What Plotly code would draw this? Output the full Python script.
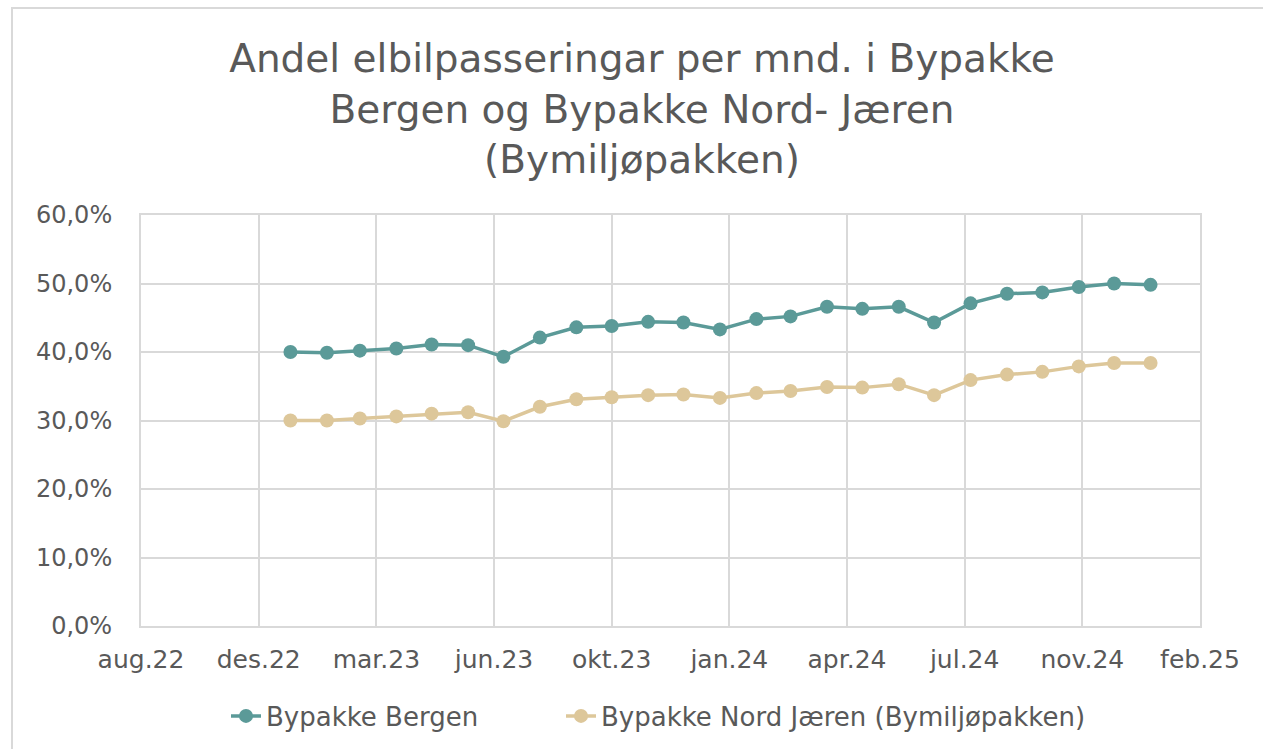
import pandas as pd
import plotly.graph_objects as go

# ---- data ----
months = pd.date_range("2023-01-01", "2025-01-01", freq="MS")
bergen = [40.0, 39.9, 40.2, 40.5, 41.1, 41.0, 39.3, 42.1, 43.6, 43.8, 44.4, 44.3, 43.3,
          44.8, 45.2, 46.6, 46.3, 46.6, 44.3, 47.1, 48.5, 48.7, 49.5, 50.0, 49.8]
nord_jaeren = [30.0, 30.0, 30.3, 30.6, 31.0, 31.2, 29.9, 32.0, 33.1, 33.4, 33.7, 33.8, 33.3,
               34.0, 34.3, 34.9, 34.8, 35.3, 33.7, 35.9, 36.7, 37.1, 37.9, 38.4, 38.4]
tick_dates = pd.date_range("2022-08-27", periods=10, freq="100D")
tick_labels = ["aug.22", "des.22", "mar.23", "jun.23", "okt.23",
               "jan.24", "apr.24", "jul.24", "nov.24", "feb.25"]
y_ticks = [0, 10, 20, 30, 40, 50, 60]
y_labels = ["0,0%", "10,0%", "20,0%", "30,0%", "40,0%", "50,0%", "60,0%"]
series_names = ["Bypakke Bergen", "Bypakke Nord Jæren (Bymiljøpakken)"]
title_text = "Andel elbilpasseringar per mnd. i Bypakke<br>Bergen og Bypakke Nord- Jæren<br>(Bymiljøpakken)"

TEAL = "#5B9A98"
BEIGE = "#DDC79A"
TXT = "#595959"
GRID = "#D9D9D9"
FONT = "DejaVu Sans"

fig = go.Figure()
for name, vals, col, lg in [(series_names[0], bergen, TEAL, "legend"),
                            (series_names[1], nord_jaeren, BEIGE, "legend2")]:
    fig.add_trace(go.Scatter(
        x=months, y=vals, name=name, mode="lines+markers",
        line=dict(color=col, width=3.5),
        marker=dict(color=col, size=14),
        legend=lg,
    ))

W, H = 1263, 749
L, R, T, B = 141, 63, 215, 123
pw, ph = W - L - R, H - T - B

legend_common = dict(orientation="h", xanchor="left", xref="container",
                     y=1 - 716 / H, yanchor="middle", yref="container",
                     font=dict(family=FONT, size=26, color=TXT), bgcolor="rgba(0,0,0,0)")

fig.update_layout(
    width=W, height=H,
    margin=dict(l=L, r=R, t=T, b=B),
    paper_bgcolor="white", plot_bgcolor="white",
    font=dict(family=FONT, color=TXT, size=24),
    title=dict(text=title_text, x=642 / W, xanchor="center", xref="container",
               y=1 - 72 / H, yanchor="middle", yref="container",
               font=dict(family=FONT, size=39, color=TXT)),
    showlegend=True,
    legend=dict(x=226 / W, **legend_common),
    legend2=dict(x=561 / W, **legend_common),
    xaxis=dict(type="date", range=[tick_dates[0], tick_dates[-1]],
               tickmode="array", tickvals=tick_dates, ticktext=tick_labels,
               showgrid=True, gridcolor=GRID, gridwidth=2,
               showline=True, linecolor=GRID, linewidth=2, mirror=True,
               ticks="", ticklabelstandoff=10, zeroline=False,
               tickfont=dict(family=FONT, size=25, color=TXT)),
    yaxis=dict(range=[0, 60], tickmode="array", tickvals=y_ticks, ticktext=y_labels,
               showgrid=True, gridcolor=GRID, gridwidth=2,
               showline=True, linecolor=GRID, linewidth=2, mirror=True,
               ticks="", ticklabelstandoff=22, zeroline=False,
               tickfont=dict(family=FONT, size=24, color=TXT)),
)

# chart-area frame (top/left edges visible in reference)
fig.add_shape(type="rect", xref="paper", yref="paper",
              x0=(12 - L) / pw, x1=(1290 - L) / pw,
              y0=(H - B - 770) / ph, y1=(H - B - 8) / ph,
              line=dict(color=GRID, width=2), fillcolor="rgba(0,0,0,0)", layer="below")

fig.write_html("out.html", config={"displayModeBar": False},
               post_script="document.body.style.margin='0';")
